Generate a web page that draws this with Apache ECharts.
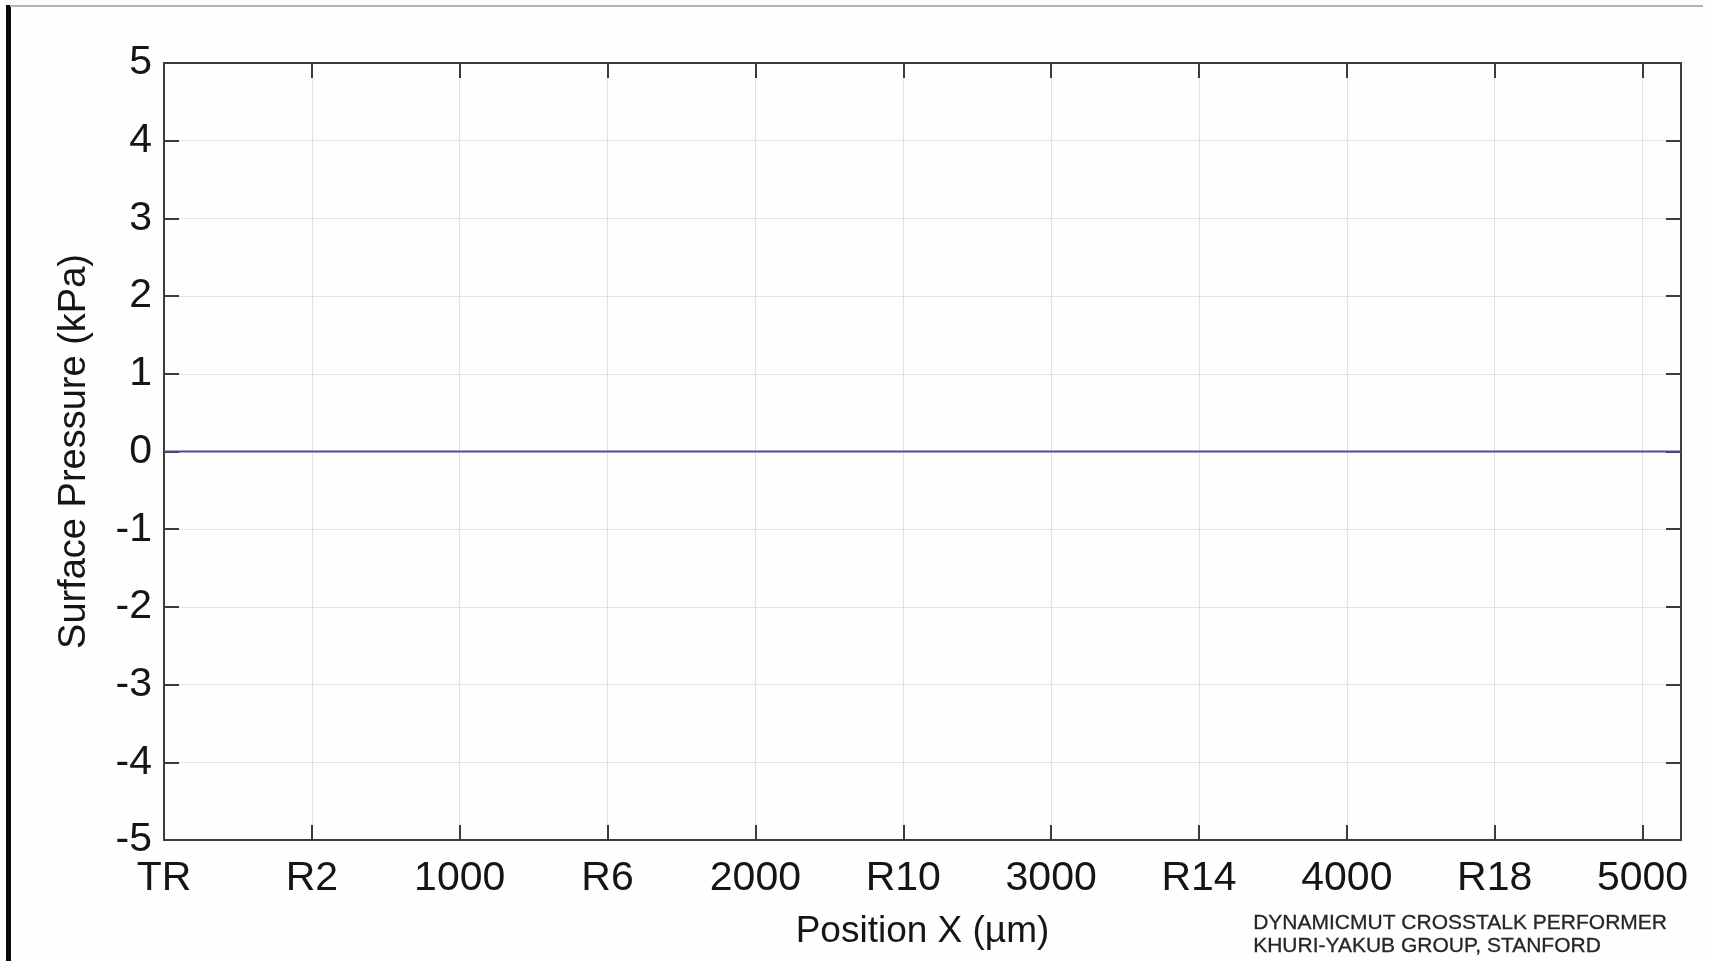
<!DOCTYPE html>
<html>
<head>
<meta charset="utf-8">
<title>Surface Pressure vs Position</title>
<script src="https://cdn.jsdelivr.net/npm/echarts@6/dist/echarts.min.js"></script>
<style>
  html, body { margin: 0; padding: 0; background: #fefefe; }
  #chart { width: 1711px; height: 961px; }
</style>
</head>
<body>
<div id="chart"></div>
<script>
// Sample positions along the surface (µm) and the pressure computed there (kPa)
const positionUm = [0, 500, 1000, 1500, 2000, 2500, 3000, 3500, 4000, 4500, 5000, 5130];
const pressureKPa = [0, 0, 0, 0, 0, 0, 0, 0, 0, 0, 0, 0];

// Position axis labels: transmitter (TR), receiver elements (R2, R6, ...) and distances
const xTickLabels = ['TR', 'R2', '1000', 'R6', '2000', 'R10', '3000', 'R14', '4000', 'R18', '5000'];
const xTickStep = 500;
const xMax = 5130;

// Pressure axis range
const yMin = -5;
const yMax = 5;
const yStep = 1;

const creditLines = ['DYNAMICMUT CROSSTALK PERFORMER', 'KHURI-YAKUB GROUP, STANFORD'];

const font = 'Liberation Sans, Arial, Helvetica, sans-serif';
const frameColor = '#3b3b3b';
const gridColor = '#e2e2e2';

const chart = echarts.init(document.getElementById('chart'), null, { renderer: 'canvas' });

function xLabel(v) {
  if (Math.abs(v % xTickStep) > 1e-6) return '';
  const i = Math.round(v / xTickStep);
  return xTickLabels[i] !== undefined ? xTickLabels[i] : '';
}

const frameAxisCommon = {
  axisLine: { show: true, onZero: false, lineStyle: { color: frameColor, width: 2 } },
  axisTick: { show: true, inside: true, length: 15, lineStyle: { color: frameColor, width: 2 } },
  splitLine: { show: false },
  axisLabel: { show: false }
};

const option = {
  backgroundColor: '#fefefe',
  animation: false,
  grid: { left: 164, right: 30, top: 63, bottom: 121, containLabel: false },
  xAxis: [
    {
      type: 'value',
      position: 'bottom',
      min: 0,
      max: xMax,
      interval: xTickStep,
      name: 'Position X (\u00b5m)',
      nameLocation: 'middle',
      nameGap: 73,
      nameTextStyle: { fontFamily: font, fontSize: 37, color: '#151515' },
      axisLine: { show: true, onZero: false, lineStyle: { color: frameColor, width: 2 } },
      axisTick: { show: true, inside: true, length: 15, lineStyle: { color: frameColor, width: 2 } },
      splitLine: { show: true, lineStyle: { color: gridColor, width: 1 } },
      axisLabel: {
        show: true,
        margin: 18,
        fontFamily: font,
        fontSize: 41,
        color: '#151515',
        showMaxLabel: false,
        formatter: xLabel
      }
    },
    Object.assign({
      type: 'value',
      position: 'top',
      min: 0,
      max: xMax,
      interval: xTickStep
    }, frameAxisCommon)
  ],
  yAxis: [
    {
      type: 'value',
      position: 'left',
      min: yMin,
      max: yMax,
      interval: yStep,
      name: 'Surface Pressure (kPa)',
      nameLocation: 'middle',
      nameGap: 70,
      nameRotate: 90,
      nameTextStyle: { fontFamily: font, fontSize: 38, color: '#151515' },
      axisLine: { show: true, onZero: false, lineStyle: { color: frameColor, width: 2 } },
      axisTick: { show: true, inside: true, length: 15, lineStyle: { color: frameColor, width: 2 } },
      splitLine: { show: true, lineStyle: { color: gridColor, width: 1 } },
      axisLabel: {
        show: true,
        margin: 12,
        fontFamily: font,
        fontSize: 41,
        color: '#151515'
      }
    },
    Object.assign({
      type: 'value',
      position: 'right',
      min: yMin,
      max: yMax,
      interval: yStep
    }, frameAxisCommon)
  ],
  series: [
    {
      type: 'line',
      xAxisIndex: 0,
      yAxisIndex: 0,
      data: positionUm.map((x, i) => [x, pressureKPa[i]]),
      showSymbol: false,
      lineStyle: { color: '#4a4a8e', width: 2 },
      z: 5
    }
  ],
  graphic: [
    {
      type: 'rect',
      left: 6, top: 5,
      shape: { width: 5, height: 956 },
      style: { fill: '#0a0a0a' },
      z: 100
    },
    {
      type: 'line',
      shape: { x1: 10, y1: 6, x2: 1703, y2: 6 },
      style: { stroke: '#b5b5b5', lineWidth: 2 },
      z: 100
    },
    {
      type: 'text',
      left: 1253,
      top: 912,
      style: {
        text: creditLines.join('\n'),
        font: '21px ' + font,
        lineHeight: 23,
        fill: '#262626',
        stroke: '#262626',
        lineWidth: 0.3
      },
      z: 100
    }
  ]
};

chart.setOption(option);
</script>
</body>
</html>
